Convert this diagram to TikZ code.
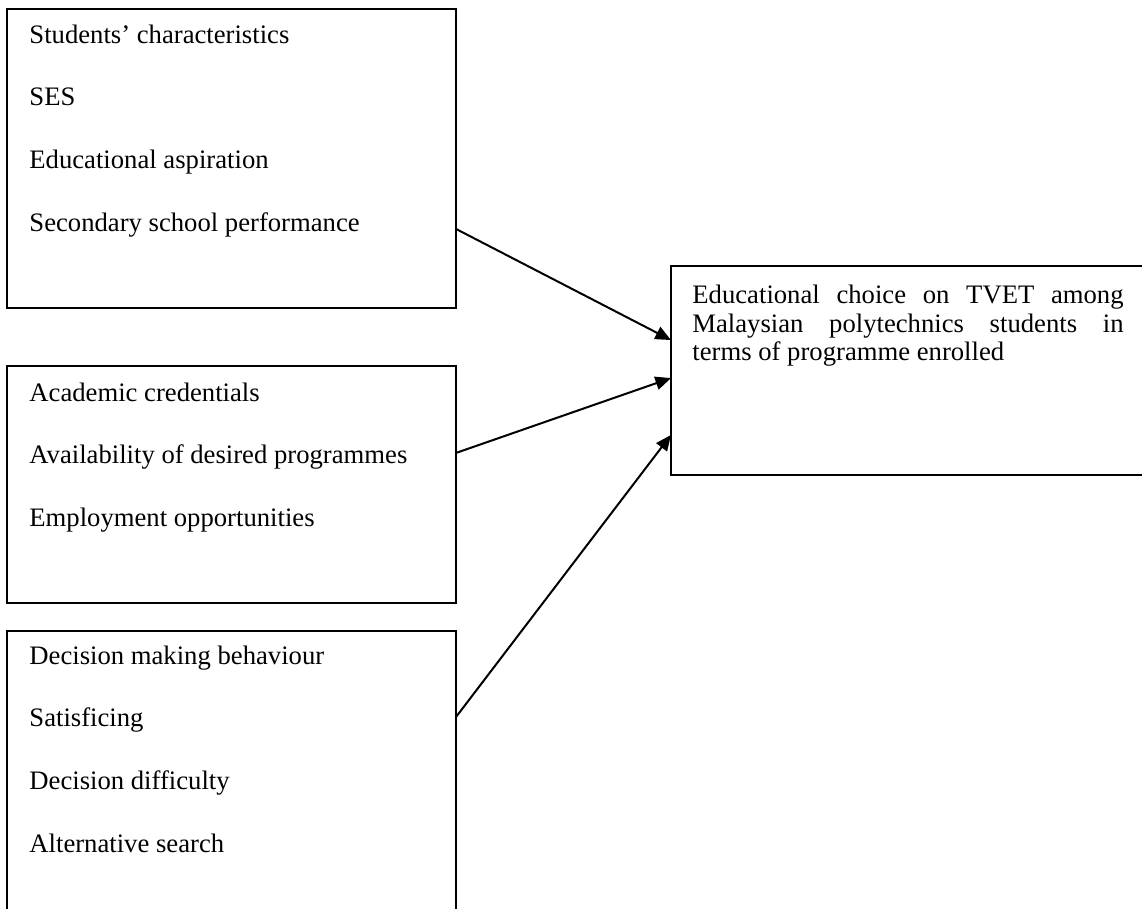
\documentclass[tikz,border=0pt]{standalone}
\usepackage{fontspec}
\setmainfont{Liberation Serif}
\usetikzlibrary{arrows.meta}

\begin{document}
\begin{tikzpicture}[
   x=0.45pt, y=-0.45pt,
   box/.style={draw,line width=0.9pt,inner sep=0pt,outer sep=0pt,anchor=north west},
   item/.style={anchor=base west,inner sep=0pt,font=\fontsize{12}{14}\selectfont},
   link/.style={-{Triangle[length=7pt,width=6pt]},line width=0.9pt}]
\clip (0,0) rectangle (1142,909);
% three factor boxes
\node[box,minimum width=202.05pt,minimum height=134.55pt] (chars) at (7,9) {};
\node[box,minimum width=202.05pt,minimum height=106.65pt] (inst) at (7,366) {};
\node[box,minimum width=202.05pt,minimum height=148pt] (dec) at (7,631) {};
\foreach \t [count=\i from 0] in {Students’ characteristics,SES,Educational aspiration,Secondary school performance}
  \node[item] (chars-\i) at (29,{43+62.7*\i}) {\t};
\foreach \t [count=\i from 0] in {Academic credentials,Availability of desired programmes,Employment opportunities}
  \node[item] (inst-\i) at (29,{401+62.7*\i}) {\t};
\foreach \t [count=\i from 0] in {Decision making behaviour,Satisficing,Decision difficulty,Alternative search}
  \node[item] (dec-\i) at (29,{664+62.8*\i}) {\t};
% outcome box
\node[box,minimum width=220pt,minimum height=94.05pt] (goal) at (671,266) {};
\node[anchor=north west,inner sep=0pt,text width=194pt,align=justify,
      font=\fontsize{12}{12.8}\selectfont] (goaltext) at (692,285)
  {\hyphenpenalty=10000 Educational choice on TVET among\linebreak Malaysian polytechnics students in\linebreak terms of programme enrolled};
% arrows
\draw[link] ([yshift=-31.7pt]chars.east) -- ([yshift=13.7pt]goal.west);
\draw[link] ([yshift=14.2pt]inst.east) -- ([yshift=-3.4pt]goal.west);
\draw[link] ([yshift=-38.7pt]dec.north east) -- ([yshift=-29pt]goal.west);
\end{tikzpicture}
\end{document}
